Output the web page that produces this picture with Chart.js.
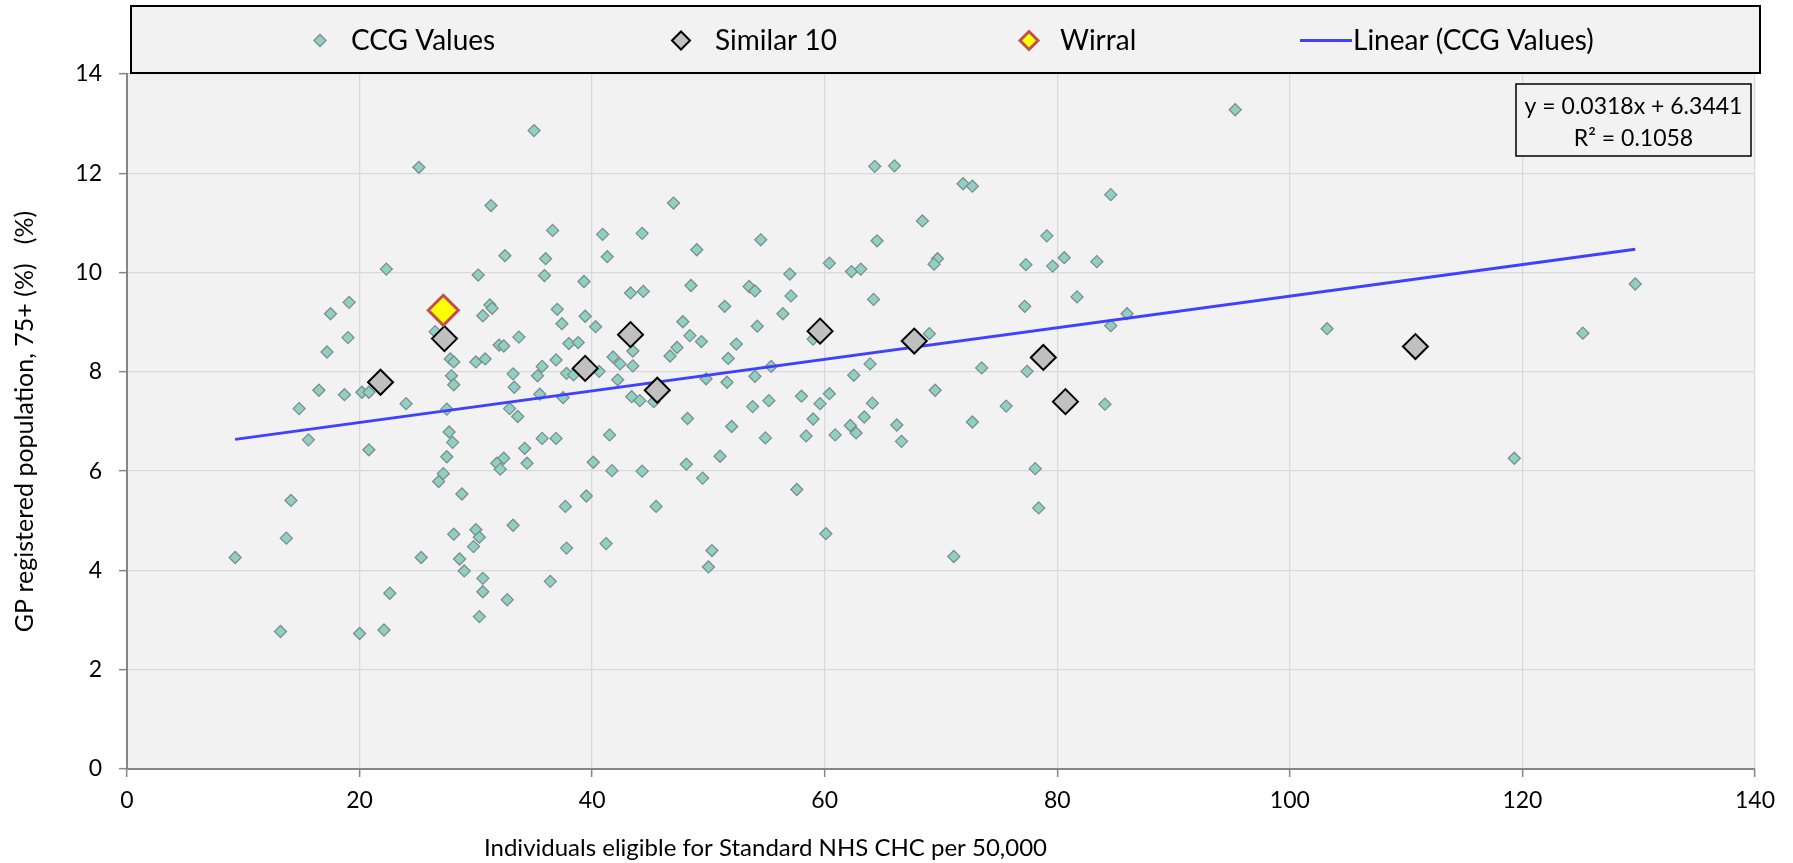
<!DOCTYPE html>
<html>
<head>
<meta charset="utf-8">
<title>CHC eligibility vs 75+ population</title>
<script src="https://cdn.jsdelivr.net/npm/chart.js@4.4.1/dist/chart.umd.min.js"></script>
<style>
  body { margin: 0; background: #fff; }
  #wrap { width: 1793px; height: 863px; }
</style>
</head>
<body>
<div id="wrap"><canvas id="scatter"></canvas></div>
<script>
// Individuals eligible for standard NHS CHC per 50,000 (x) against GP registered population aged 75+ (y)
const ccgX = [
  25.1, 31.3, 32.5, 22.3, 30.2, 19.1, 17.5, 31.2, 31.4, 30.6, 19.0, 17.2, 26.5, 27.8, 28.1, 30.0, 30.8,
  32.0, 32.4, 33.7, 27.9, 28.1, 33.2, 33.3, 16.5, 18.7, 20.2, 20.8, 24.0, 14.8, 27.5, 32.9, 33.6,
  35.0, 64.3, 66.0, 47.0, 36.6, 40.9, 44.3, 49.0, 54.5, 64.5, 68.4, 36.0, 41.3, 35.9, 39.3, 48.5,
  43.3, 44.4, 53.5, 54.0, 57.0, 60.4, 62.3, 63.1, 64.2, 57.1, 51.4, 56.4, 37.0, 39.4, 37.4, 40.3,
  47.8, 54.2, 38.0, 38.8, 48.4, 49.4, 52.4, 43.5, 47.3, 46.7, 51.7, 59.0, 63.9, 36.9, 35.7, 41.8,
  42.4, 43.5, 40.6, 37.8, 38.4, 35.3, 42.2, 49.8, 51.6, 54.0, 55.4, 62.5, 35.5, 37.5, 43.4, 44.1,
  45.3, 58.0, 59.6, 60.4, 55.2, 53.8, 64.1, 48.2, 59.0, 63.4,
  95.3, 71.9, 72.7, 84.6, 79.1, 69.7, 69.4, 77.3, 79.6, 80.6, 83.4, 81.7, 77.2, 86.0, 84.6, 69.0,
  73.5, 77.4, 69.5, 75.6, 84.1, 72.7,
  103.2, 125.2, 129.7,
  15.6, 20.8, 27.7, 28.0, 27.5, 27.2, 26.8, 32.4, 31.8, 32.1, 34.2, 28.8, 14.1, 13.7, 9.3, 25.3,
  28.1, 33.2, 30.0, 30.3, 29.8, 28.6, 29.0, 30.6, 30.6, 32.7, 30.3, 22.6, 13.2, 20.0, 22.1,
  52.0, 62.2, 62.7, 60.9, 58.4, 54.9, 66.2, 66.6, 35.7, 36.9, 41.5, 34.4, 40.1, 41.7, 44.3, 48.1,
  49.5, 51.0, 57.6, 39.5, 37.7, 45.5, 37.8, 41.2, 50.3, 50.0, 60.1, 36.4,
  78.1, 78.4, 71.1,
  119.3
];
const ccgY = [
  12.12, 11.35, 10.34, 10.07, 9.95, 9.40, 9.17, 9.35, 9.28, 9.13, 8.69, 8.40, 8.81, 8.26, 8.20, 8.20, 8.26,
  8.54, 8.52, 8.70, 7.92, 7.74, 7.96, 7.69, 7.63, 7.54, 7.59, 7.59, 7.36, 7.26, 7.25, 7.26, 7.10,
  12.86, 12.14, 12.15, 11.40, 10.85, 10.77, 10.79, 10.46, 10.66, 10.64, 11.04, 10.28, 10.32, 9.94, 9.82, 9.74,
  9.59, 9.62, 9.72, 9.63, 9.97, 10.19, 10.02, 10.07, 9.46, 9.53, 9.32, 9.17, 9.26, 9.12, 8.97, 8.91,
  9.01, 8.92, 8.57, 8.59, 8.73, 8.61, 8.56, 8.42, 8.49, 8.32, 8.27, 8.66, 8.16, 8.24, 8.11, 8.30,
  8.16, 8.12, 8.01, 7.97, 7.94, 7.92, 7.84, 7.86, 7.79, 7.91, 8.11, 7.93, 7.55, 7.48, 7.50, 7.42,
  7.40, 7.51, 7.36, 7.56, 7.42, 7.30, 7.37, 7.06, 7.05, 7.09,
  13.28, 11.79, 11.74, 11.57, 10.74, 10.28, 10.17, 10.16, 10.13, 10.30, 10.22, 9.51, 9.32, 9.17, 8.93, 8.77,
  8.08, 8.01, 7.63, 7.31, 7.35, 6.99,
  8.87, 8.78, 9.77,
  6.63, 6.43, 6.79, 6.58, 6.29, 5.95, 5.79, 6.26, 6.16, 6.04, 6.46, 5.54, 5.41, 4.65, 4.26, 4.26,
  4.73, 4.91, 4.82, 4.67, 4.48, 4.23, 3.99, 3.84, 3.57, 3.41, 3.07, 3.54, 2.77, 2.73, 2.80,
  6.90, 6.92, 6.77, 6.73, 6.71, 6.67, 6.93, 6.60, 6.66, 6.66, 6.73, 6.16, 6.18, 6.01, 6.00, 6.14,
  5.86, 6.30, 5.63, 5.50, 5.29, 5.29, 4.45, 4.54, 4.40, 4.07, 4.74, 3.78,
  6.05, 5.26, 4.28,
  6.26
];

// the 10 most similar CCGs
const similarX = [21.8, 27.3, 39.4, 43.3, 45.6, 59.6, 67.7, 78.8, 80.7, 110.8];
const similarY = [7.79, 8.67, 8.07, 8.75, 7.63, 8.82, 8.62, 8.29, 7.40, 8.51];

const wirralX = [27.2];
const wirralY = [9.24];

// linear fit over the CCG values (from Excel)
const trendSlope = 0.0318;
const trendIntercept = 6.3441;
const trendR2 = 0.1058;

const xTickValues = [0, 20, 40, 60, 80, 100, 120, 140];
const yTickValues = [0, 2, 4, 6, 8, 10, 12, 14];

const FONT = 'Lato';
const CCG_FILL = '#8fd0c5', CCG_LINE = '#7d8e8b';
const SIM_FILL = '#c0c0c0', SIM_LINE = '#000000';
const WIR_FILL = '#ffff00', WIR_LINE = '#c0504d';
const TREND = '#4040ff';

const toPoints = (xs, ys) => xs.map((x, i) => ({ x: x, y: ys[i] }));

const trendFrom = Math.min(...ccgX);
const trendTo = Math.max(...ccgX);
const trendPoints = [trendFrom, trendTo].map(x => ({ x: x, y: trendSlope * x + trendIntercept }));

function diamond(ctx, x, y, r, fill, stroke, lw) {
  ctx.beginPath();
  ctx.moveTo(x - r, y);
  ctx.lineTo(x, y - r);
  ctx.lineTo(x + r, y);
  ctx.lineTo(x, y + r);
  ctx.closePath();
  ctx.fillStyle = fill;
  ctx.fill();
  ctx.lineWidth = lw;
  ctx.strokeStyle = stroke;
  ctx.stroke();
}

// grey plot area on a white page
const plotBackground = {
  id: 'plotBackground',
  beforeDraw(chart) {
    const { ctx, chartArea: a } = chart;
    ctx.save();
    ctx.fillStyle = '#ffffff';
    ctx.fillRect(0, 0, chart.width, chart.height);
    ctx.fillStyle = '#f2f2f2';
    ctx.fillRect(a.left, a.top, a.right - a.left, a.bottom - a.top);
    ctx.restore();
  }
};

// boxed legend across the top
const legendBox = {
  id: 'legendBox',
  afterDraw(chart) {
    const ctx = chart.ctx;
    const names = chart.data.datasets.map(d => d.label);
    ctx.save();
    ctx.fillStyle = '#f2f2f2';
    ctx.fillRect(131, 6, 1629, 67);
    ctx.lineWidth = 2;
    ctx.strokeStyle = '#000';
    ctx.strokeRect(131, 6, 1629, 67);

    const cy = 40.5;
    diamond(ctx, 320, cy, 6, CCG_FILL, CCG_LINE, 1.3);
    diamond(ctx, 681, cy, 9, SIM_FILL, SIM_LINE, 2);
    diamond(ctx, 1029, cy, 9, WIR_FILL, WIR_LINE, 3);
    ctx.beginPath();
    ctx.moveTo(1300, cy);
    ctx.lineTo(1352, cy);
    ctx.lineWidth = 3;
    ctx.strokeStyle = TREND;
    ctx.stroke();

    ctx.font = '28px ' + FONT;
    ctx.fillStyle = '#000';
    ctx.textBaseline = 'alphabetic';
    ctx.textAlign = 'left';
    ctx.fillText(names[3], 351, 50);
    ctx.fillText(names[1], 715, 50);
    ctx.fillText(names[0], 1060, 50);
    ctx.fillText(names[2], 1353, 50);
    ctx.restore();
  }
};

// trendline equation in the top right corner of the plot
const equationBox = {
  id: 'equationBox',
  afterDraw(chart) {
    const { ctx, chartArea: a } = chart;
    const w = 235, h = 72;
    const x = a.right - 4 - w, y = a.top + 10;
    ctx.save();
    ctx.fillStyle = '#f2f2f2';
    ctx.fillRect(x, y, w, h);
    ctx.lineWidth = 1.5;
    ctx.strokeStyle = '#000';
    ctx.strokeRect(x, y, w, h);
    ctx.font = '23px ' + FONT;
    ctx.fillStyle = '#000';
    ctx.textAlign = 'center';
    ctx.textBaseline = 'alphabetic';
    ctx.fillText('y = ' + trendSlope.toFixed(4) + 'x + ' + trendIntercept.toFixed(4), x + w / 2, y + 30);
    ctx.fillText('R\u00b2 = ' + trendR2.toFixed(4), x + w / 2, y + 62);
    ctx.restore();
  }
};

// x axis title sits left of centre
const xTitle = {
  id: 'xTitle',
  afterDraw(chart) {
    const ctx = chart.ctx;
    ctx.save();
    ctx.font = '24px ' + FONT;
    ctx.fillStyle = '#000';
    ctx.textAlign = 'left';
    ctx.textBaseline = 'alphabetic';
    ctx.fillText('Individuals eligible for Standard NHS CHC per 50,000', 484, 856);
    ctx.restore();
  }
};

const gridOpts = {
  color: '#d9d9d9',
  lineWidth: 1.3,
  tickColor: '#868686',
  tickLength: 8,
  tickWidth: 1.5
};
const borderOpts = { display: true, color: '#868686', width: 2 };

new Chart(document.getElementById('scatter'), {
  type: 'scatter',
  data: {
    datasets: [
      {
        label: 'Wirral',
        data: toPoints(wirralX, wirralY),
        pointStyle: 'rectRot',
        pointRadius: 15,
        backgroundColor: WIR_FILL,
        borderColor: WIR_LINE,
        borderWidth: 3,
        order: 0
      },
      {
        label: 'Similar 10',
        data: toPoints(similarX, similarY),
        pointStyle: 'rectRot',
        pointRadius: 12.5,
        backgroundColor: SIM_FILL,
        borderColor: SIM_LINE,
        borderWidth: 2,
        order: 1
      },
      {
        label: 'Linear (CCG Values)',
        data: trendPoints,
        showLine: true,
        pointRadius: 0,
        borderColor: TREND,
        borderWidth: 3,
        order: 2
      },
      {
        label: 'CCG Values',
        data: toPoints(ccgX, ccgY),
        pointStyle: 'rectRot',
        pointRadius: 6,
        backgroundColor: CCG_FILL,
        borderColor: CCG_LINE,
        borderWidth: 1.3,
        order: 3
      }
    ]
  },
  options: {
    responsive: true,
    maintainAspectRatio: false,
    animation: false,
    events: [],
    layout: { padding: { top: 74, right: 38, bottom: 0, left: 0 } },
    font: { family: FONT },
    plugins: {
      legend: { display: false },
      tooltip: { enabled: false }
    },
    scales: {
      x: {
        type: 'linear',
        min: xTickValues[0],
        max: xTickValues[xTickValues.length - 1],
        afterBuildTicks: scale => { scale.ticks = xTickValues.map(v => ({ value: v })); },
        afterFit: scale => { scale.height = 94; },
        grid: gridOpts,
        border: borderOpts,
        ticks: { color: '#000', padding: 10, font: { family: FONT, size: 23 } }
      },
      y: {
        type: 'linear',
        min: yTickValues[0],
        max: yTickValues[yTickValues.length - 1],
        afterBuildTicks: scale => { scale.ticks = yTickValues.map(v => ({ value: v })); },
        afterFit: scale => { scale.width = 127; },
        grid: gridOpts,
        border: borderOpts,
        ticks: { color: '#000', padding: 17, font: { family: FONT, size: 23 } },
        title: {
          display: true,
          text: 'GP registered population, 75+ (%)   (%)',
          color: '#000',
          font: { family: FONT, size: 25 },
          padding: { top: 10, bottom: 0 }
        }
      }
    }
  },
  plugins: [plotBackground, legendBox, equationBox, xTitle]
});
</script>
</body>
</html>
